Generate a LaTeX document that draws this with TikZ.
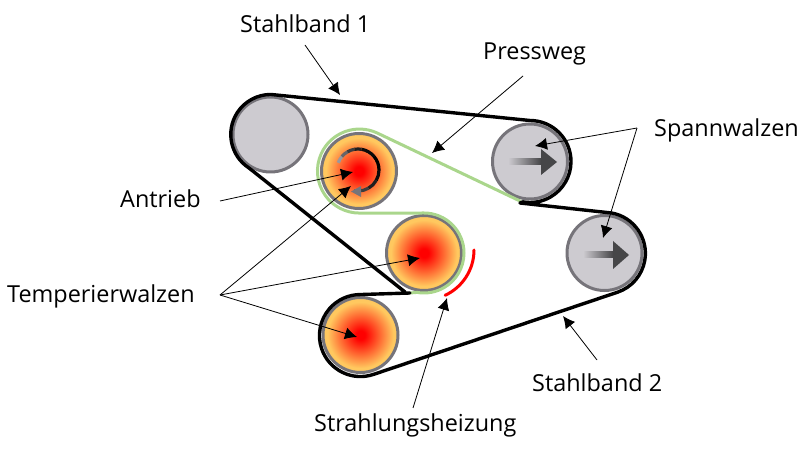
\documentclass[tikz,border=0pt]{standalone}
\usepackage{fontspec}
\setmainfont{Open Sans}
\usetikzlibrary{arrows.meta}
\definecolor{hOut}{RGB}{255,200,95}
\definecolor{rollgray}{RGB}{205,203,208}
\definecolor{rimgray}{RGB}{118,116,122}
\definecolor{beltgreen}{RGB}{170,214,140}
\definecolor{darkarrow}{RGB}{70,70,72}
\pgfdeclareradialshading{heat}{\pgfpointorigin}{color(0bp)=(red); color(3bp)=(red); color(22bp)=(hOut); color(50bp)=(hOut)}
\tikzset{
 x=1bp,y=-1bp,
 roller/.style={circle,draw=rimgray,line width=3bp,minimum size=75bp,inner sep=0pt,outer sep=0pt},
 cold/.style={roller,fill=rollgray},
 hot/.style={roller,shading=heat},
 belt/.style={line width=3.4bp,black,line cap=round,line join=round},
 press/.style={line width=3bp,beltgreen,line cap=round,line join=round},
 heater/.style={line width=3bp,red,line cap=round},
 lead/.style={line width=0.8bp,black,-{Latex[length=12bp,width=12bp]}},
 lab/.style={font=\fontsize{23.5}{26}\selectfont,inner sep=0pt,anchor=base west},
 spin/.style={line width=3.2bp},
}
\begin{document}
\begin{tikzpicture}
\useasboundingbox (0,0) rectangle (810,449);
% rollers
\node[cold] (r1) at (270.5,134.5) {};
\node[hot]  (r2) at (359,171) {};
\node[hot]  (r3) at (424,253) {};
\node[hot]  (r4) at (360.5,335) {};
\node[cold] (s1) at (530,161.5) {};
\node[cold] (s2) at (604.5,253) {};
% green press path
\draw[press] (520,201) -- (377.2,133) arc[start angle=-65,end angle=-270,radius=42] -- (424,213) arc[start angle=-90,end angle=100,radius=40] -- (410,293);
% black belt
\draw[belt] (405,292) -- (249,168) arc[start angle=123,end angle=270,radius=40]
 -- (530,120.5) arc[start angle=-90,end angle=100,radius=41] -- (520,203)
 -- (611.5,213) arc[start angle=-80,end angle=71,radius=41]
 -- (373.8,374.3) arc[start angle=71,end angle=270,radius=41] -- (410,293);
% heater
\draw[heater] (474,250) arc[start angle=0,end angle=65,radius=50];
% feed arrows in the tension rollers
\shade[left color=rollgray,right color=darkarrow] (508,159) rectangle (541,165);
\fill[darkarrow] (541,149) -- (557,162) -- (541,175) -- cycle;
\shade[left color=rollgray,right color=darkarrow] (583,252) rectangle (613,258);
\fill[darkarrow] (613,241) -- (629,255) -- (613,269) -- cycle;
% rotation arrow
\foreach \a/\b/\m in {-160/-140/25,-140/-120/50,-120/-100/70,-100/-80/85,-80/-40/95,-40/0/100,0/30/95,30/60/85,60/90/70,90/100/60}{
  \draw[spin,black!\m!rollgray] (358,170)++(\a:21) arc[start angle=\a,end angle=\b,radius=21];
}
\fill[rimgray] (351,191.5) -- (361,186) -- (361,197) -- cycle;
% labels
\node[lab] (band1) at (240,33) {Stahlband 1};
\node[lab] (pw) at (483,60) {Pressweg};
\node[lab] (spann) at (654,137) {Spannwalzen};
\node[lab] (antrieb) at (120,208) {Antrieb};
\node[lab] (temper) at (7,303) {Temperierwalzen};
\node[lab] (band2) at (532,391) {Stahlband 2};
\node[lab] (strahl) at (314,431) {Strahlungsheizung};
% connector ends
\coordinate (band1end) at (305,45);
\coordinate (pwend) at (523,76);
\coordinate (spannend) at (637,128);
\coordinate (antriebend) at (220,201);
\coordinate (temperend) at (220,295);
\coordinate (band2end) at (597,360);
\coordinate (strahlend) at (413,408);
% connectors
\draw[lead] (band1end) -- (340,95);
\draw[lead] (pwend) -- (432,153);
\draw[lead] (spannend) -- (535,146);
\draw[lead] (spannend) -- (603,238);
\draw[lead] (antriebend) -- (353,172);
\draw[lead] (temperend) -- (351,186);
\draw[lead] (temperend) -- (420,258);
\draw[lead] (temperend) -- (357,337);
\draw[lead] (band2end) -- (563,316);
\draw[lead] (strahlend) -- (447,298);
\end{tikzpicture}
\end{document}
